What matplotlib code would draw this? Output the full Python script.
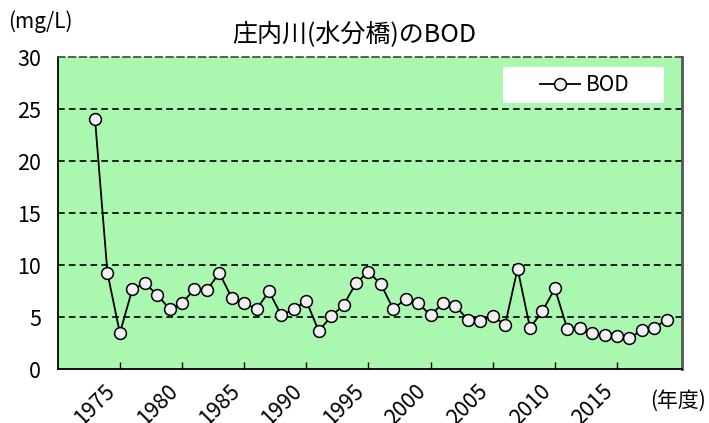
import numpy as np
import matplotlib
matplotlib.use("Agg")
import matplotlib.pyplot as plt
from matplotlib.patches import Rectangle

plt.rcParams['font.family'] = ['Noto Sans CJK JP', 'DejaVu Sans']

years = list(range(1973, 2020))
bod = [24.1, 9.3, 3.5, 7.7, 8.3, 7.2, 5.8, 6.4, 7.7, 7.6,
       9.3, 6.9, 6.4, 5.8, 7.5, 5.2, 5.8, 6.6, 3.7, 5.1,
       6.2, 8.3, 9.4, 8.2, 5.8, 6.8, 6.4, 5.2, 6.4, 6.1,
       4.8, 4.7, 5.1, 4.3, 9.7, 4.0, 5.6, 7.8, 3.9, 4.0,
       3.5, 3.3, 3.2, 3.0, 3.8, 4.0, 4.8]
tick_years = [1975, 1980, 1985, 1990, 1995, 2000, 2005, 2010, 2015]
y_ticks = [0, 5, 10, 15, 20, 25, 30]

fig = plt.figure(figsize=(7.09, 4.23), dpi=100)
ax = fig.add_axes([0.0814, 0.1265, 0.880, 0.7376])
ax.set_facecolor('#aaf7b0')

for v in y_ticks[1:-1]:
    ax.axhline(v, color='black', linestyle=(0, (4, 2.5)), linewidth=1.2, zorder=1)

ax.plot(years, bod, color='black', linewidth=1.3, marker='o', markersize=8.5,
        markerfacecolor='#f0f0f0', markeredgecolor='black', markeredgewidth=1.1,
        label='BOD', zorder=3, clip_on=False)

ax.set_xlim(1970, 2020.2)
ax.set_ylim(0, 30)
ax.set_yticks(y_ticks)
ax.set_xticks(tick_years)
ax.set_xticklabels([str(y) for y in tick_years], rotation=45, ha='right', va='top')
ax.tick_params(axis='x', direction='in', length=5, width=1, pad=8, labelsize=15.5)
ax.tick_params(axis='y', length=0, pad=12, labelsize=15.5)

for s in ['left', 'bottom']:
    ax.spines[s].set_color('black')
    ax.spines[s].set_linewidth(1.3)
ax.spines['right'].set_color('#555555')
ax.spines['right'].set_linewidth(2)
ax.spines['top'].set_color('#444444')
ax.spines['top'].set_linestyle((0, (4, 2.5)))
ax.spines['top'].set_linewidth(1.2)

ax.add_patch(Rectangle((0.714, 0.854), 0.258, 0.115, transform=ax.transAxes,
                       facecolor='white', edgecolor='none', zorder=4))
leg = ax.legend(loc='center', bbox_to_anchor=(0.845, 0.912), frameon=False,
                fontsize=15, handlelength=1.9, handletextpad=0.3)
leg.set_zorder(5)

fig.text(0.5, 0.917, '庄内川(水分橋)のBOD', ha='center', va='center', fontsize=18)
fig.text(0.011, 0.948, '(mg/L)', ha='left', va='center', fontsize=15)
fig.text(0.995, 0.052, '(年度)', ha='right', va='center', fontsize=15)

fig.savefig('out.png', dpi=100)
